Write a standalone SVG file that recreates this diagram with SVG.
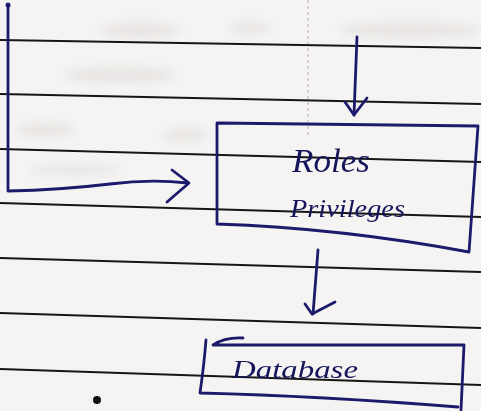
<svg xmlns="http://www.w3.org/2000/svg" width="481" height="411" viewBox="0 0 481 411">
  <style>
    .rule { stroke: #161616; stroke-width: 1.9; fill: none; }
    .ink { stroke: #1b1a6b; stroke-width: 2.8; fill: none; stroke-linecap: round; stroke-linejoin: round; }
    .hand { font-family: "Liberation Serif", "DejaVu Serif", serif; font-style: italic; fill: #16155c; }
    .smudge { fill: #c4bebe; opacity: 0.25; }
  </style>
  <defs>
    <filter id="soft" x="-20%" y="-50%" width="140%" height="200%">
      <feGaussianBlur stdDeviation="4"/>
    </filter>
  </defs>

  <!-- paper -->
  <rect width="481" height="411" fill="#f5f4f2"/>

  <!-- faint marks showing through the sheet -->
  <g filter="url(#soft)">
    <ellipse class="smudge" cx="140" cy="30" rx="40" ry="8"/>
    <ellipse class="smudge" cx="250" cy="28" rx="20" ry="6"/>
    <ellipse class="smudge" cx="120" cy="75" rx="55" ry="8"/>
    <ellipse class="smudge" cx="410" cy="30" rx="70" ry="8"/>
    <ellipse class="smudge" cx="45" cy="130" rx="30" ry="7"/>
    <ellipse class="smudge" cx="185" cy="135" rx="22" ry="7"/>
    <ellipse class="smudge" cx="75" cy="170" rx="45" ry="5"/>
  </g>
  <path d="M308 0 L308 135" stroke="#c2bdbd" stroke-width="1.2" stroke-dasharray="3 3" fill="none"/>

  <!-- ruled lines -->
  <g id="rules">
    <path class="rule" d="M0 40 L481 48"/>
    <path class="rule" d="M0 94 L481 104"/>
    <path class="rule" d="M0 149 L481 162"/>
    <path class="rule" d="M0 203 L481 217"/>
    <path class="rule" d="M0 258 L481 272"/>
    <path class="rule" d="M0 313 L481 328"/>
    <path class="rule" d="M0 369 L481 385"/>
  </g>

  <!-- connectors -->
  <g id="connectors">
    <path class="ink" d="M8 6 L8 191 Q60 190 110 184 Q150 179 188 183"/>
    <path class="ink" d="M172 170 L189 183 L167 202"/>
    <path class="ink" d="M357 37 L354 115"/>
    <path class="ink" d="M345 102 L354 115 L367 98"/>
    <path class="ink" d="M318 250 L313 314"/>
    <path class="ink" d="M305 304 L312 314 L335 302"/>
  </g>

  <!-- Roles / Privileges node -->
  <g id="roles-node">
    <path class="ink" d="M217 123 Q350 124 478 126 L469 252 Q340 228 217 224 Z"/>
    <text class="hand" x="292" y="172" font-size="33" textLength="78" lengthAdjust="spacingAndGlyphs">Roles</text>
    <text class="hand" x="290" y="217" font-size="26" textLength="115" lengthAdjust="spacingAndGlyphs">Privileges</text>
  </g>

  <!-- Database node -->
  <g id="database-node">
    <path class="ink" d="M243 338 Q225 337 213 345 L464 345 L461 410"/>
    <path class="ink" d="M206 340 Q204 365 200 393 Q320 396 458 407"/>
    <text class="hand" x="232" y="378" font-size="26" textLength="126" lengthAdjust="spacingAndGlyphs">Database</text>
  </g>

  <!-- stray ink -->
  <circle cx="97" cy="400" r="4" fill="#111"/>
  <circle cx="8" cy="5" r="2.5" fill="#1b1a6b"/>
</svg>
